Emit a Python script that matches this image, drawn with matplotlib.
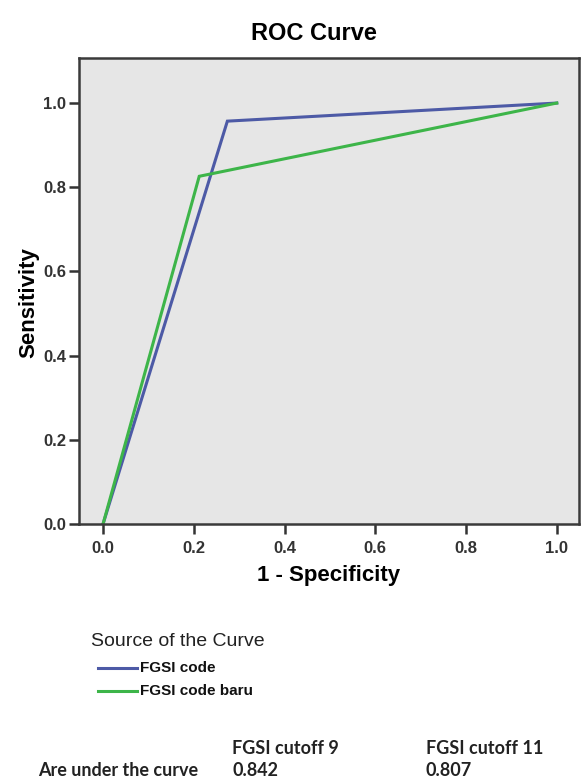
import matplotlib
matplotlib.use("Agg")
import matplotlib.pyplot as plt
from matplotlib.lines import Line2D

# Data
fpr_code = [0.0, 0.274, 1.0]
tpr_code = [0.0, 0.957, 1.0]
fpr_baru = [0.0, 0.212, 1.0]
tpr_baru = [0.0, 0.826, 1.0]
series_labels = ["FGSI code", "FGSI code baru"]
xticks = [0.0, 0.2, 0.4, 0.6, 0.8, 1.0]
yticks = [0.0, 0.2, 0.4, 0.6, 0.8, 1.0]
table_cols = ["FGSI cutoff 9", "FGSI cutoff 11"]
table_row_label = "Are under the curve"
auc_values = ["0.842", "0.807"]

blue = "#4d5aa6"
green = "#3db549"

plt.rcParams['font.family'] = ['Liberation Sans', 'DejaVu Sans']

fig = plt.figure(figsize=(5.82, 7.84), dpi=100)
ax = fig.add_axes([79/582, 1 - 524/784, (579-79)/582, (524-58)/784])
ax.set_facecolor("#e6e6e6")
ax.plot(fpr_code, tpr_code, color=blue, lw=2.2, solid_joinstyle='miter')
ax.plot(fpr_baru, tpr_baru, color=green, lw=2.2, solid_joinstyle='miter')
ax.set_xlim(-0.053, 1.049)
ax.set_ylim(0.0, 1.107)
ax.set_xticks(xticks)
ax.set_yticks(yticks)
ax.set_xticklabels([f"{v:.1f}" for v in xticks], fontsize=12, fontweight='bold', color='#333333')
ax.set_yticklabels([f"{v:.1f}" for v in yticks], fontsize=12, fontweight='bold', color='#333333')
ax.tick_params(direction='out', length=7, width=1.8, color='#333333', pad=2)
ax.tick_params(axis='x', pad=5)
for s in ax.spines.values():
    s.set_color('#3a3a3a')
    s.set_linewidth(1.8)
ax.set_xlabel("1 - Specificity", fontsize=16, fontweight='bold', labelpad=7)
ax.set_ylabel("Sensitivity", fontsize=16, fontweight='bold')
ax.yaxis.set_label_coords(-40/500, 0.476)
fig.text(314/582, 1 - 33/784, "ROC Curve", ha='center', va='center', fontsize=17, fontweight='bold')

# Legend
fig.text(91/582, 1 - 642/784, "Source of the Curve", ha='left', va='center', fontsize=14, color='#222222')
for i, (lab, col) in enumerate(zip(series_labels, [blue, green])):
    y = 1 - (668 + 23*i)/784
    fig.add_artist(Line2D([98/582, 137/582], [y, y], color=col, lw=2.2, transform=fig.transFigure))
    fig.text(140/582, y, lab, ha='left', va='center', fontsize=11, fontweight='bold', color='#111111')

# Table
tfont = ['Lato', 'DejaVu Sans']
for j, (c, v) in enumerate(zip(table_cols, auc_values)):
    x = [232, 426][j] / 582
    fig.text(x, 1 - 748/784, c, ha='left', va='center', fontsize=13, fontweight='bold', family=tfont, color='#222222')
    fig.text(x, 1 - 771/784, v, ha='left', va='center', fontsize=13, fontweight='bold', family=tfont, color='#222222')
fig.text(38/582, 1 - 771/784, table_row_label, ha='left', va='center', fontsize=13, fontweight='bold', family=tfont, color='#222222')

fig.savefig("out.png", dpi=100)
